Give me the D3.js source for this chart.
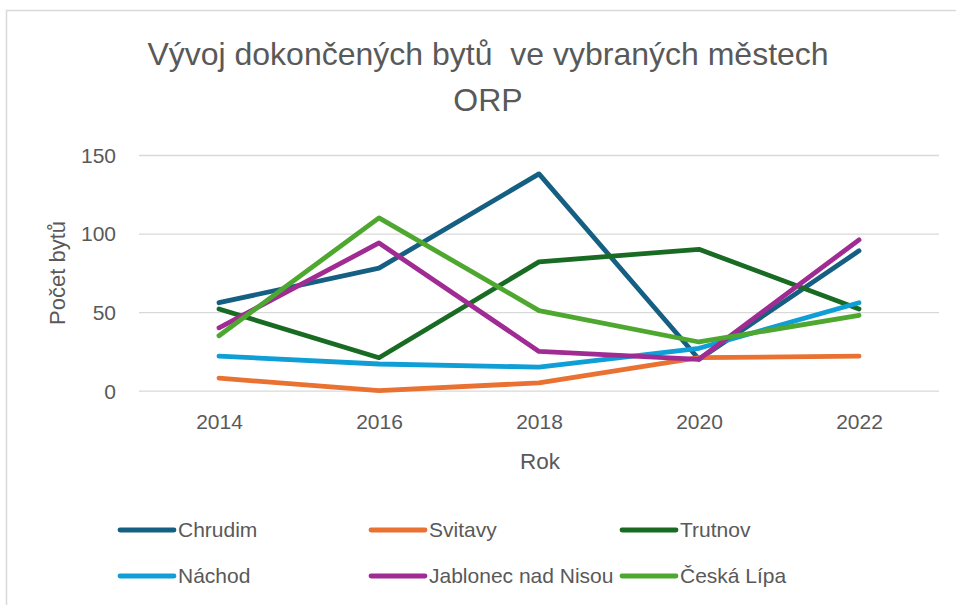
<!DOCTYPE html>
<html>
<head>
<meta charset="utf-8">
<script src="https://cdn.jsdelivr.net/npm/d3@7/dist/d3.min.js"></script>
<style>
  html, body { margin: 0; padding: 0; background: #fff; }
  svg { display: block; }
  text { white-space: pre; }
</style>
</head>
<body>
<svg id="chart" width="956" height="605"></svg>
<script>
// Years on the category axis
const years = ["2014", "2016", "2018", "2020", "2022"];

// Completed dwellings per town
const chrudim   = [56, 78, 138, 20, 89];
const svitavy   = [8, 0, 5, 21, 22];
const trutnov   = [52, 21, 82, 90, 52];
const nachod    = [22, 17, 15, 27, 56];
const jablonec  = [40, 94, 25, 20, 96];
const ceskaLipa = [35, 110, 51, 31, 48];

const seriesNames  = ["Chrudim", "Svitavy", "Trutnov", "Náchod", "Jablonec nad Nisou", "Česká Lípa"];
const seriesValues = [chrudim, svitavy, trutnov, nachod, jablonec, ceskaLipa];
const seriesColors = ["#156082", "#E97132", "#196B24", "#0F9ED5", "#A02B93", "#4EA72E"];

const yTicks = [0, 50, 100, 150];

const titleLines = ["Vývoj dokončených bytů  ve vybraných městech", "ORP"];
const xTitle = "Rok";
const yTitle = "Počet bytů";

const svg = d3.select("#chart");
const font = "'Liberation Sans', Arial, sans-serif";
const textColor = "#595959";

// chart frame
svg.append("rect")
  .attr("x", 6.5).attr("y", 10.5)
  .attr("width", 1000).attr("height", 1000)
  .attr("fill", "none").attr("stroke", "#d9d9d9").attr("stroke-width", 1.5);

const plot = { left: 139, right: 939, top: 155, bottom: 390.7 };

const x = d3.scalePoint().domain(years).range([plot.left, plot.right]).padding(0.5);
const y = d3.scaleLinear().domain([0, 150]).range([plot.bottom, plot.top]);

// horizontal gridlines and value labels
const yAxis = d3.axisLeft(y).tickValues(yTicks).tickSize(-(plot.right - plot.left)).tickPadding(23);
const gy = svg.append("g").attr("transform", `translate(${plot.left},0)`).call(yAxis);
gy.select(".domain").remove();
gy.selectAll(".tick line").attr("stroke", "#d9d9d9").attr("stroke-width", 1.3);
gy.selectAll(".tick text")
  .attr("fill", textColor).attr("font-family", font).attr("font-size", 21)
  .attr("dy", "0.35em");

// category labels
const xAxis = d3.axisBottom(x).tickSize(0).tickPadding(23);
const gx = svg.append("g").attr("transform", `translate(0,${plot.bottom})`).call(xAxis);
gx.select(".domain").remove();
gx.selectAll(".tick text")
  .attr("fill", textColor).attr("font-family", font).attr("font-size", 21);

// series lines
const line = d3.line().x((d, i) => x(years[i])).y(d => y(d));
svg.append("g").selectAll("path")
  .data(seriesValues)
  .join("path")
  .attr("d", d => line(d))
  .attr("fill", "none")
  .attr("stroke", (d, i) => seriesColors[i])
  .attr("stroke-width", 4.8)
  .attr("stroke-linejoin", "round")
  .attr("stroke-linecap", "round");

// title
svg.append("g").selectAll("text")
  .data(titleLines)
  .join("text")
  .attr("x", 488)
  .attr("y", (d, i) => 65 + i * 46)
  .attr("text-anchor", "middle")
  .attr("fill", textColor)
  .attr("font-family", font)
  .attr("font-size", 32)
  .text(d => d);

// axis titles
svg.append("text")
  .attr("x", 540).attr("y", 469)
  .attr("text-anchor", "middle")
  .attr("fill", textColor).attr("font-family", font).attr("font-size", 22.5)
  .text(xTitle);

svg.append("text")
  .attr("transform", "translate(65,273) rotate(-90)")
  .attr("text-anchor", "middle")
  .attr("fill", textColor).attr("font-family", font).attr("font-size", 22)
  .text(yTitle);

// legend: three columns, two rows
const legendCols = [118, 369, 620];
const legendRows = [530, 576];
const legend = svg.append("g").selectAll("g")
  .data(seriesNames)
  .join("g")
  .attr("transform", (d, i) => `translate(${legendCols[i % 3]},${legendRows[Math.floor(i / 3)]})`);

legend.append("line")
  .attr("x1", 2).attr("x2", 56).attr("y1", 0).attr("y2", 0)
  .attr("stroke", (d, i) => seriesColors[i])
  .attr("stroke-width", 4.8)
  .attr("stroke-linecap", "round");

legend.append("text")
  .attr("x", 60).attr("y", 0).attr("dy", "0.35em")
  .attr("fill", textColor).attr("font-family", font).attr("font-size", 21)
  .text(d => d);
</script>
</body>
</html>
